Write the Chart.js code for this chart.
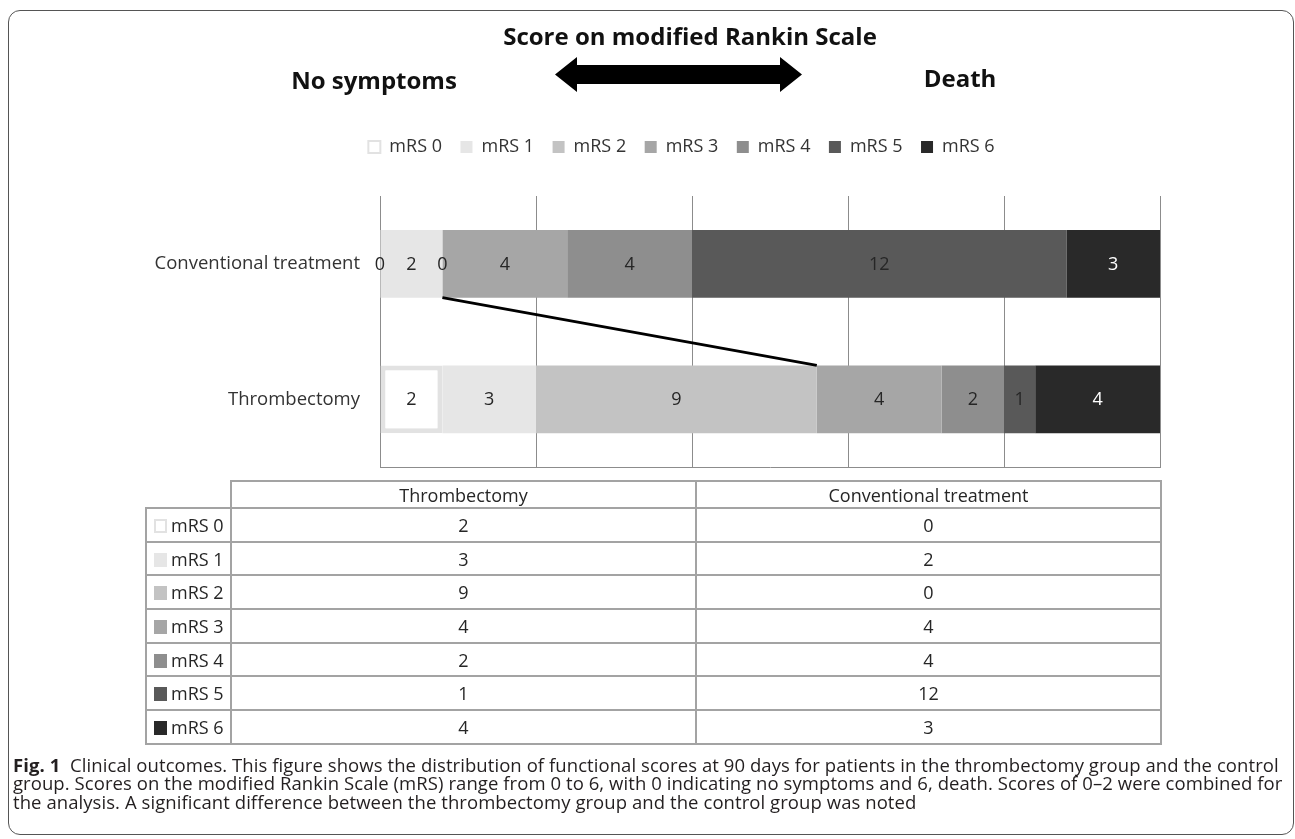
<!DOCTYPE html>
<html>
<head>
<meta charset="utf-8">
<script src="https://cdn.jsdelivr.net/npm/chart.js@4.4.0/dist/chart.umd.min.js"></script>
<style>
    html, body { margin: 0; padding: 0; background: #fff; }
    body { width: 1295px; height: 839px; position: relative; overflow: hidden; font-family: "Open Sans", sans-serif; color: #262626; }
    #frame { position: absolute; left: 8px; top: 10px; width: 1286px; height: 825px; border: 1.5px solid #555; border-radius: 12px; box-sizing: border-box; }
    #myChart { position: absolute; left: 0; top: 0; }
    #dataTable { position: absolute; left: 145px; top: 480px; border-collapse: collapse; table-layout: fixed; font-size: 18px; }
    #dataTable td { border: 2px solid #a3a3a3; padding: 0; text-align: center; white-space: nowrap; }
    #dataTable tr.head td { height: 25px; line-height: 20px; }
    #dataTable tr.row td { height: 31.7px; }
    #dataTable td.corner { border-top: none; border-left: none; }
    #dataTable td.name { text-align: left; padding-left: 7px; }
    .swatch { display: inline-block; width: 13px; height: 14px; margin-right: 4px; vertical-align: -1px; box-sizing: border-box; }
    #caption { position: absolute; left: 13px; top: 756px; font-size: 18.5px; line-height: 18.3px; letter-spacing: 0.07px; white-space: nowrap; color: #231f20; }
</style>
</head>
<body>
<div id="frame"></div>
<canvas id="myChart" width="1295" height="839"></canvas>
<table id="dataTable"></table>
<div id="caption"><b>Fig. 1</b>&nbsp; Clinical outcomes. This figure shows the distribution of functional scores at 90 days for patients in the thrombectomy group and the control<br>group. Scores on the modified Rankin Scale (mRS) range from 0 to 6, with 0 indicating no symptoms and 6, death. Scores of 0–2 were combined for<br>the analysis. A significant difference between the thrombectomy group and the control group was noted</div>

<script>
// Data
var categories = ["Conventional treatment", "Thrombectomy"];
var scoreLabels = ["mRS 0", "mRS 1", "mRS 2", "mRS 3", "mRS 4", "mRS 5", "mRS 6"];
var conventionalCounts = [0, 2, 0, 4, 4, 12, 3];
var thrombectomyCounts = [2, 3, 9, 4, 2, 1, 4];
var axisMax = 25;
var axisStep = 5;

// Styles
var scoreColors = ["#ffffff", "#e6e6e6", "#c3c3c3", "#a6a6a6", "#8e8e8e", "#595959", "#292929"];
var zeroBorder = "#e2e2e2";
var gridColor = "#8c8c8c";

Chart.defaults.font.family = '"Open Sans", sans-serif';
Chart.defaults.color = "#333";

//Datasets, one per score
var datasets = scoreLabels.map(function (label, i) {
    return {
        label: label,
        data: [conventionalCounts[i], thrombectomyCounts[i]],
        backgroundColor: scoreColors[i],
        borderColor: i === 0 ? zeroBorder : scoreColors[i],
        borderWidth: i === 0 ? 5 : 0,
        borderSkipped: false,
        barPercentage: 1,
        categoryPercentage: 0.5
    };
});

//Values written inside each segment
var segmentLabels = {
    id: "segmentLabels",
    afterDatasetsDraw: function (chart) {
        var ctx = chart.ctx;
        ctx.save();
        ctx.font = '18px "Open Sans"';
        ctx.textAlign = "center";
        ctx.textBaseline = "middle";
        chart.data.datasets.forEach(function (ds, i) {
            chart.getDatasetMeta(i).data.forEach(function (bar, j) {
                var p = bar.getProps(["x", "y", "base"], true);
                ctx.fillStyle = i === 6 ? "#ffffff" : "#262626";
                ctx.fillText(String(ds.data[j]), (p.x + p.base) / 2, p.y + 1);
            });
        });
        ctx.restore();
    }
};

//Line joining the end of mRS 0-2 in both bars
var connector = {
    id: "connector",
    afterDatasetsDraw: function (chart) {
        var meta = chart.getDatasetMeta(2);
        var a = meta.data[0].getProps(["x", "y", "height"], true);
        var b = meta.data[1].getProps(["x", "y", "height"], true);
        var ctx = chart.ctx;
        ctx.save();
        ctx.beginPath();
        ctx.moveTo(a.x, a.y + a.height / 2);
        ctx.lineTo(b.x, b.y - b.height / 2);
        ctx.lineWidth = 3;
        ctx.strokeStyle = "#000";
        ctx.stroke();
        ctx.restore();
    }
};

//Heading with the double arrow
var heading = {
    id: "heading",
    afterDraw: function (chart) {
        var ctx = chart.ctx;
        ctx.save();
        ctx.fillStyle = "#111";
        ctx.textAlign = "center";
        ctx.textBaseline = "middle";
        ctx.font = 'bold 24px "Open Sans"';
        ctx.fillText("Score on modified Rankin Scale", 690, 38);
        ctx.fillText("No symptoms", 374, 82);
        ctx.fillText("Death", 960, 80);

        ctx.beginPath();
        ctx.moveTo(555, 74.5);
        ctx.lineTo(577, 57);
        ctx.lineTo(577, 65);
        ctx.lineTo(780, 65);
        ctx.lineTo(780, 57);
        ctx.lineTo(802, 74.5);
        ctx.lineTo(780, 92);
        ctx.lineTo(780, 84);
        ctx.lineTo(577, 84);
        ctx.lineTo(577, 92);
        ctx.closePath();
        ctx.fillStyle = "#000";
        ctx.fill();
        ctx.restore();
    }
};

//Init chart
var ctx = document.getElementById("myChart").getContext("2d");
var myChart = new Chart(ctx, {
    type: "bar",
    data: { labels: categories, datasets: datasets },
    options: {
        indexAxis: "y",
        responsive: false,
        animation: false,
        devicePixelRatio: 1,
        layout: { padding: { left: 68, right: 0, top: 119.5, bottom: 372 } },
        plugins: {
            tooltip: { enabled: false },
            legend: {
                position: "top",
                labels: {
                    font: { size: 18 },
                    color: "#333",
                    boxWidth: 12,
                    boxHeight: 12,
                    padding: 18.5,
                    generateLabels: function (chart) {
                        var items = Chart.defaults.plugins.legend.labels.generateLabels(chart);
                        items.forEach(function (it) { it.lineWidth = it.datasetIndex === 0 ? 2 : 0; });
                        return items;
                    }
                }
            },
            // empty spacer between legend and plot
            subtitle: { display: true, text: "", weight: 500, font: { size: 10 }, padding: { top: 0, bottom: 18 } }
        },
        scales: {
            x: {
                stacked: true,
                min: 0,
                max: axisMax,
                ticks: { display: false, stepSize: axisStep },
                grid: { color: gridColor, drawTicks: false },
                border: { display: true, color: gridColor },
                afterFit: function (scale) { scale.height = 0; }
            },
            y: {
                stacked: true,
                grid: { display: false, drawTicks: false },
                border: { display: true, color: gridColor },
                ticks: { font: { size: 18.5 }, color: "#333", padding: 20 },
                afterFit: function (scale) { scale.width = 312; }
            },
            // empty right axis, keeps the right margin
            yRight: {
                type: "category",
                position: "right",
                grid: { display: false, drawTicks: false },
                border: { display: false },
                ticks: { display: false },
                afterFit: function (scale) { scale.width = 135; }
            }
        }
    },
    plugins: [segmentLabels, connector, heading]
});

//Data table below the chart
var table = document.getElementById("dataTable");
var html = '<colgroup><col style="width:85px"><col style="width:465px"><col style="width:465px"></colgroup>';
html += '<tr class="head"><td class="corner"></td><td>' + categories[1] + '</td><td>' + categories[0] + '</td></tr>';
scoreLabels.forEach(function (label, i) {
    var sw = 'background:' + scoreColors[i] + ';' + (i === 0 ? 'border:2px solid ' + zeroBorder + ';' : '');
    html += '<tr class="row"><td class="name"><span class="swatch" style="' + sw + '"></span>' + label + '</td>' +
        '<td>' + thrombectomyCounts[i] + '</td><td>' + conventionalCounts[i] + '</td></tr>';
});
table.innerHTML = html;
</script>
</body>
</html>
